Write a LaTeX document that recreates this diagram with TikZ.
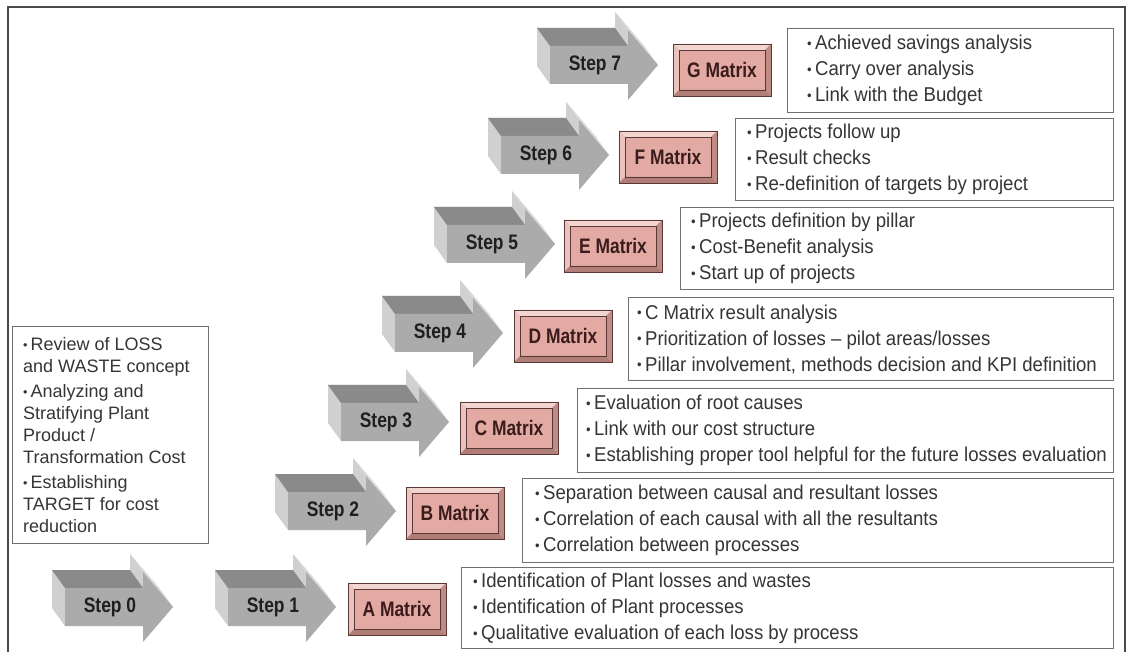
\documentclass[tikz,border=0pt]{standalone}
\usepackage{graphicx}
\usepackage{fontspec}
\setmainfont{Liberation Sans}
\newfontfamily\labelfont[FakeStretch=0.83]{Liberation Sans}
\newfontfamily\notefont[FakeStretch=0.93]{Liberation Sans}
\usetikzlibrary{positioning}

\definecolor{framegray}{HTML}{4A4A4A}
\definecolor{boxgray}{HTML}{707070}
\definecolor{notegray}{HTML}{353535}
\definecolor{arrowfront}{HTML}{ABABAB}
\definecolor{arrowtop}{HTML}{8A8A8A}
\definecolor{arrowside}{HTML}{D0D0D0}
\definecolor{arrowhead}{HTML}{DADADA}
\definecolor{mxface}{HTML}{E2AAA3}
\definecolor{mxlight}{HTML}{F2D4D0}
\definecolor{mxleft}{HTML}{EBC2BD}
\definecolor{mxdark}{HTML}{B07D77}
\definecolor{mxright}{HTML}{BE8B85}
\definecolor{mxline}{HTML}{5A3836}
\definecolor{mxtext}{HTML}{3A1C1C}

\newcommand{\bul}{\raisebox{0.12ex}{\scalebox{0.7}{\textbullet}}\,}

\tikzset{
  steplabel/.style={font=\labelfont\bfseries\fontsize{21}{21}\selectfont, text=black!88},
  matrixbox/.style={draw=mxline, line width=0.9pt, fill=mxface, minimum width=98pt,
    minimum height=52pt, inner sep=0pt, text=mxtext,
    font=\labelfont\bfseries\fontsize{21}{21}\selectfont,
    path picture={
      \fill[mxlight] (path picture bounding box.north west) -- (path picture bounding box.north east)
        -- ([shift={(-6pt,-6pt)}]path picture bounding box.north east) -- ([shift={(6pt,-6pt)}]path picture bounding box.north west) -- cycle;
      \fill[mxleft] (path picture bounding box.north west) -- (path picture bounding box.south west)
        -- ([shift={(6pt,6pt)}]path picture bounding box.south west) -- ([shift={(6pt,-6pt)}]path picture bounding box.north west) -- cycle;
      \fill[mxdark] (path picture bounding box.south west) -- (path picture bounding box.south east)
        -- ([shift={(-6pt,6pt)}]path picture bounding box.south east) -- ([shift={(6pt,6pt)}]path picture bounding box.south west) -- cycle;
      \fill[mxright] (path picture bounding box.north east) -- (path picture bounding box.south east)
        -- ([shift={(-6pt,6pt)}]path picture bounding box.south east) -- ([shift={(-6pt,-6pt)}]path picture bounding box.north east) -- cycle;
      \draw[mxline, line width=0.6pt] ([shift={(6pt,-6pt)}]path picture bounding box.north west) rectangle ([shift={(-6pt,6pt)}]path picture bounding box.south east);
    }},
  notebox/.style={draw=boxgray, line width=1.3pt, fill=white, inner sep=0pt},
  notetext/.style={font=\notefont\fontsize{20}{26}\selectfont, text=notegray, align=left, inner sep=0pt},
  introtext/.style={font=\fontsize{18}{22}\selectfont, text=notegray, align=left, inner sep=0pt}
}

\begin{document}
\begin{tikzpicture}[x=1pt, y=-1pt]
    \useasboundingbox (0,0) rectangle (1128,652);
    \fill[white] (0,0) rectangle (1128,652);

    % Outer frame
    \draw[framegray, line width=1.8pt] (8,660) -- (8,7) -- (1125,7) -- (1125,660);

    % 3D step arrows with labels
    \foreach \sx/\sy/\sn in {110/607/0, 273/607/1, 333/511/2, 386/422/3, 440/333/4, 492/244/5, 546/155/6, 595/65/7} {
        \begin{scope}[shift={(\sx-45,\sy)}]
            \fill[arrowside] (-13,-37) -- (65,-37) -- (65,-53) -- (95,-18) -- (65,17) -- (65,1) -- (-13,1) -- cycle;
            \fill[arrowside] (0,-19) -- (0,19) -- (-13,1) -- (-13,-37) -- cycle;
            \fill[arrowhead] (78,-35) -- (108,0) -- (95,-18) -- (65,-53) -- cycle;
            \fill[arrowtop] (0,-19) -- (78,-19) -- (65,-37) -- (-13,-37) -- cycle;
            \fill[arrowfront] (0,-19) -- (78,-19) -- (78,-35) -- (108,0) -- (78,35) -- (78,19) -- (0,19) -- cycle;
        \end{scope}
        \node[steplabel] (step\sn) at (\sx,\sy) {Step \sn};
    }

    % Matrix buttons
    \foreach \mx/\my/\ml in {397/609/A, 455/513/B, 509/428/C, 563/336/D, 613/246/E, 668/157/F, 722/70/G}
        \node[matrixbox] (mat\ml) at (\mx,\my) {\ml\ Matrix};

    % Step 0 description
    \node[notebox, minimum width=196pt, minimum height=217pt, anchor=north west] (introbox) at (12,326) {};
    \node[introtext, anchor=west] (intro) at ([xshift=11pt]introbox.west) {\bul Review of LOSS\\and WASTE concept\\[3pt]\bul Analyzing and\\Stratifying Plant\\Product /\\Transformation Cost\\[3pt]\bul Establishing\\TARGET for cost\\reduction};

    % Matrix descriptions
    \node[notebox, minimum width=326pt, minimum height=84pt, anchor=north west] (gbox) at (787,28) {};
    \node[notetext, anchor=west] (gnote) at ([xshift=20pt]gbox.west) {\bul Achieved savings analysis\\\bul Carry over analysis\\\bul Link with the Budget};

    \node[notebox, minimum width=378pt, minimum height=82pt, anchor=north west] (fbox) at (735,118) {};
    \node[notetext, anchor=west] (fnote) at ([xshift=12pt]fbox.west) {\bul Projects follow up\\\bul Result checks\\\bul Re-definition of targets by project};

    \node[notebox, minimum width=433pt, minimum height=82pt, anchor=north west] (ebox) at (680,207) {};
    \node[notetext, anchor=west] (enote) at ([xshift=11pt]ebox.west) {\bul Projects definition by pillar\\\bul Cost-Benefit analysis\\\bul Start up of projects};

    \node[notebox, minimum width=485pt, minimum height=83pt, anchor=north west] (dbox) at (628,297) {};
    \node[notetext, anchor=west] (dnote) at ([xshift=9pt]dbox.west) {\bul C Matrix result analysis\\\bul Prioritization of losses – pilot areas/losses\\\bul Pillar involvement, methods decision and KPI definition};

    \node[notebox, minimum width=536pt, minimum height=84pt, anchor=north west] (cbox) at (577,388) {};
    \node[notetext, anchor=west] (cnote) at ([xshift=9pt]cbox.west) {\bul Evaluation of root causes\\\bul Link with our cost structure\\\bul Establishing proper tool helpful for the future losses evaluation};

    \node[notebox, minimum width=591pt, minimum height=84pt, anchor=north west] (bbox) at (522,478) {};
    \node[notetext, anchor=west] (bnote) at ([xshift=13pt]bbox.west) {\bul Separation between causal and resultant losses\\\bul Correlation of each causal with all the resultants\\\bul Correlation between processes};

    \node[notebox, minimum width=652pt, minimum height=81pt, anchor=north west] (abox) at (461,567) {};
    \node[notetext, anchor=west] (anote) at ([xshift=12pt]abox.west) {\bul Identification of Plant losses and wastes\\\bul Identification of Plant processes\\\bul Qualitative evaluation of each loss by process};
\end{tikzpicture}
\end{document}
